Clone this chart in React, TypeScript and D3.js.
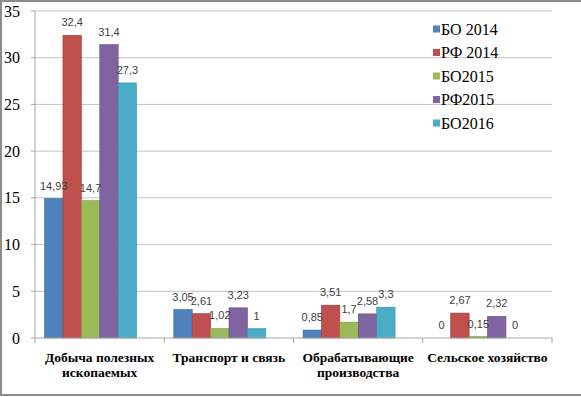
import React from "react";
import * as d3 from "d3";

const categories = [
  ["Добыча полезных", "ископаемых"],
  ["Транспорт и связь"],
  ["Обрабатывающие", "производства"],
  ["Сельское хозяйство"],
];
const seriesNames = ["БО 2014", "РФ 2014", "БО2015", "РФ2015", "БО2016"];
const seriesColors = ["#4F81BD", "#C0504D", "#9BBB59", "#8064A2", "#4BACC6"];
const seriesStroke = ["#3A6A9F", "#9E3A37", "#7E9B44", "#654D86", "#3590A8"];
const values = [
  [14.93, 3.05, 0.85, 0],
  [32.4, 2.61, 3.51, 2.67],
  [14.7, 1.02, 1.7, 0.15],
  [31.4, 3.23, 2.58, 2.32],
  [27.3, 1, 3.3, 0],
];
const valueLabels = [
  ["14,93", "3,05", "0,85", "0"],
  ["32,4", "2,61", "3,51", "2,67"],
  ["14,7", "1,02", "1,7", "0,15"],
  ["31,4", "3,23", "2,58", "2,32"],
  ["27,3", "1", "3,3", "0"],
];
const yTicks = [0, 5, 10, 15, 20, 25, 30, 35];

const W = 581;
const H = 397;
const plotLeft = 35;
const plotRight = 552;
const plotTop = 11;
const plotBottom = 338;
const SERIF = "'Liberation Serif'";
const SANS = "'Liberation Sans'";

export default function App() {
  const y = d3.scaleLinear().domain([0, 35]).range([plotBottom, plotTop]);
  const x0 = d3
    .scaleBand<number>()
    .domain(categories.map((_, i) => i))
    .range([plotLeft, plotRight])
    .padding(0);
  const cw = x0.bandwidth();
  const x1 = d3
    .scaleBand<number>()
    .domain(seriesNames.map((_, i) => i))
    .range([cw * 0.074, cw * 0.786])
    .padding(0);

  return (
    <svg
      width={W}
      height={H}
      style={{ position: "fixed", left: 0, top: 0, background: "#fff" }}
    >
      <rect x={0} y={0} width={W} height={H} fill="#fff" />
      {yTicks.map((t) =>
        t === 0 ? null : (
          <line
            key={"g" + t}
            x1={plotLeft}
            x2={plotRight}
            y1={y(t)}
            y2={y(t)}
            stroke="#c4c4c4"
            strokeWidth={1}
          />
        )
      )}
      <line x1={plotLeft} x2={plotLeft} y1={plotTop} y2={plotBottom} stroke="#a6a6a6" />
      {yTicks.map((t) => (
        <g key={"yt" + t}>
          <line x1={plotLeft - 4} x2={plotLeft} y1={y(t)} y2={y(t)} stroke="#a6a6a6" />
          <text
            x={20}
            y={y(t)}
            textAnchor="end"
            dominantBaseline="central"
            style={{ fontFamily: SERIF, fontSize: 16 }}
            fill="#000"
          >
            {t}
          </text>
        </g>
      ))}
      {seriesNames.map((s, si) =>
        categories.map((c, ci) => {
          const v = values[si][ci];
          const bx = (x0(ci) as number) + (x1(si) as number);
          const bw = x1.bandwidth();
          return (
            <rect
              key={"b" + si + "-" + ci}
              x={bx}
              y={y(v)}
              width={bw}
              height={plotBottom - y(v)}
              fill={seriesColors[si]}
              stroke={v > 0 ? seriesStroke[si] : "none"}
              strokeWidth={0.6}
            />
          );
        })
      )}
      <line x1={plotLeft} x2={plotRight} y1={plotBottom} y2={plotBottom} stroke="#a6a6a6" />
      {d3.range(categories.length + 1).map((i) => {
        const xx = plotLeft + i * cw;
        return (
          <line key={"xt" + i} x1={xx} x2={xx} y1={plotBottom} y2={plotBottom + 5} stroke="#a6a6a6" />
        );
      })}
      {seriesNames.map((s, si) =>
        categories.map((c, ci) => {
          const v = values[si][ci];
          const cx = (x0(ci) as number) + (x1(si) as number) + x1.bandwidth() / 2;
          return (
            <text
              key={"l" + si + "-" + ci}
              x={cx}
              y={y(v) - 13}
              textAnchor="middle"
              dominantBaseline="central"
              style={{ fontFamily: SANS, fontSize: 11 }}
              fill="#404040"
            >
              {valueLabels[si][ci]}
            </text>
          );
        })
      )}
      {categories.map((lines, ci) => {
        const cx = (x0(ci) as number) + cw / 2;
        return (
          <text
            key={"c" + ci}
            textAnchor="middle"
            style={{ fontFamily: SERIF, fontSize: 13.5, fontWeight: "bold" }}
            fill="#000"
          >
            {lines.map((ln, li) => (
              <tspan key={li} x={cx} y={362 + li * 14.5}>
                {ln}
              </tspan>
            ))}
          </text>
        );
      })}
      {seriesNames.map((s, si) => {
        const ly = 29 + si * 23.5;
        return (
          <g key={"lg" + si}>
            <rect x={433} y={ly - 3.5} width={7} height={7} fill={seriesColors[si]} />
            <text
              x={441}
              y={ly}
              dominantBaseline="central"
              style={{ fontFamily: SERIF, fontSize: 16 }}
              fill="#000"
            >
              {s}
            </text>
          </g>
        );
      })}
      <rect x={1} y={1} width={W + 5} height={H - 3} fill="none" stroke="#8c8c8c" strokeWidth={2} />
    </svg>
  );
}
